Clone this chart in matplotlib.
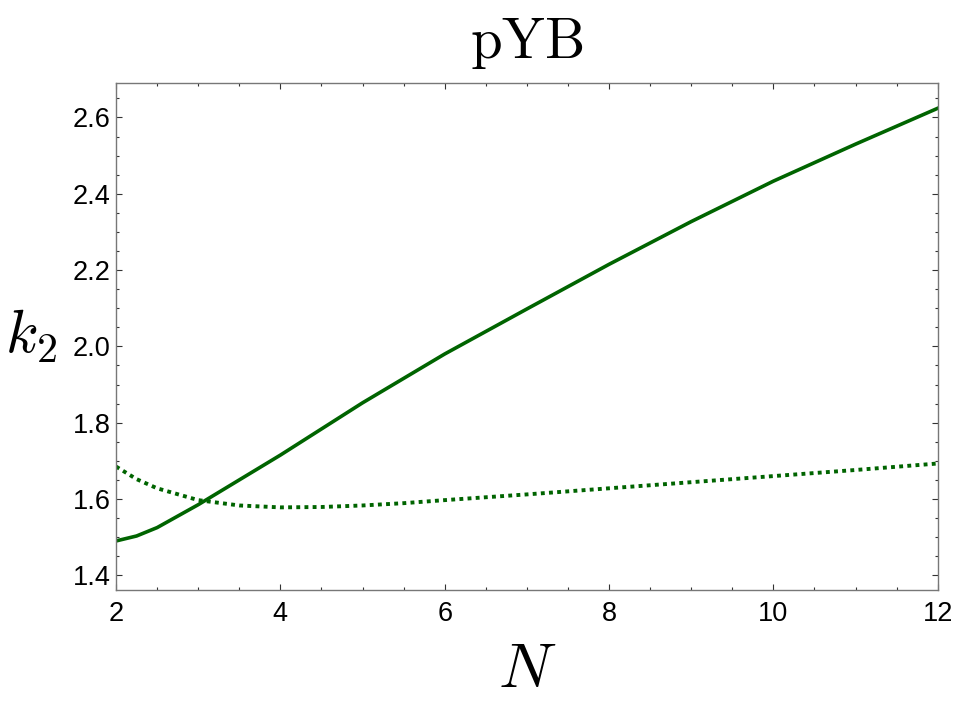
import matplotlib
matplotlib.use("Agg")
import matplotlib.pyplot as plt
from matplotlib.ticker import MultipleLocator

plt.rcParams['font.family'] = ['Liberation Sans', 'DejaVu Sans']
plt.rcParams['mathtext.fontset'] = 'cm'

# solid curve
n_solid = [2, 2.25, 2.5, 3, 3.5, 4, 5, 6, 7, 8, 9, 10, 11, 12]
k2_solid = [1.490, 1.503, 1.525, 1.585, 1.650, 1.715, 1.852, 1.980,
            2.098, 2.215, 2.327, 2.433, 2.530, 2.624]

# dotted curve
n_dot = [2, 2.25, 2.5, 3, 3.5, 4, 4.5, 5, 5.5, 6, 7, 8, 8.5, 9, 10, 11, 12]
k2_dot = [1.685, 1.652, 1.628, 1.597, 1.583, 1.578, 1.579, 1.583, 1.589,
          1.597, 1.612, 1.628, 1.636, 1.644, 1.660, 1.676, 1.693]

x_ticks = [2, 4, 6, 8, 10, 12]
y_ticks = [1.4, 1.6, 1.8, 2.0, 2.2, 2.4, 2.6]

green = '#006400'

fig = plt.figure(figsize=(9.55, 7.18), dpi=100)
ax = fig.add_axes([0.1215, 0.1783, 0.8604, 0.7065])

ax.plot(n_solid, k2_solid, color=green, lw=2.6, solid_joinstyle='round')
ax.plot(n_dot, k2_dot, color=green, lw=2.8, linestyle=(0, (1, 1.1)))

ax.set_xlim(2, 12)
ax.set_ylim(1.3615, 2.691)
ax.set_xticks(x_ticks)
ax.set_yticks(y_ticks)
ax.set_yticklabels(['%.1f' % v for v in y_ticks])
ax.xaxis.set_minor_locator(MultipleLocator(0.5))
ax.yaxis.set_minor_locator(MultipleLocator(0.05))

ax.tick_params(which='both', direction='in', top=True, right=True,
               color='#333333', width=0.8)
ax.tick_params(which='major', length=4, labelsize=19.5)
ax.tick_params(which='minor', length=2)
ax.tick_params(axis='x', pad=8)
ax.tick_params(axis='y', pad=4)
for s in ax.spines.values():
    s.set_color('#777777')
    s.set_linewidth(1.0)

ax.set_title(r'$\mathrm{pYB}$', fontsize=41, pad=18)
ax.text(0.5, -0.158, r'$N$', transform=ax.transAxes, ha='center',
        va='center', fontsize=46)
ax.text(-0.103, 0.5, r'$k_2$', transform=ax.transAxes, ha='center',
        va='center', fontsize=43)

fig.savefig('out.png', dpi=100)
